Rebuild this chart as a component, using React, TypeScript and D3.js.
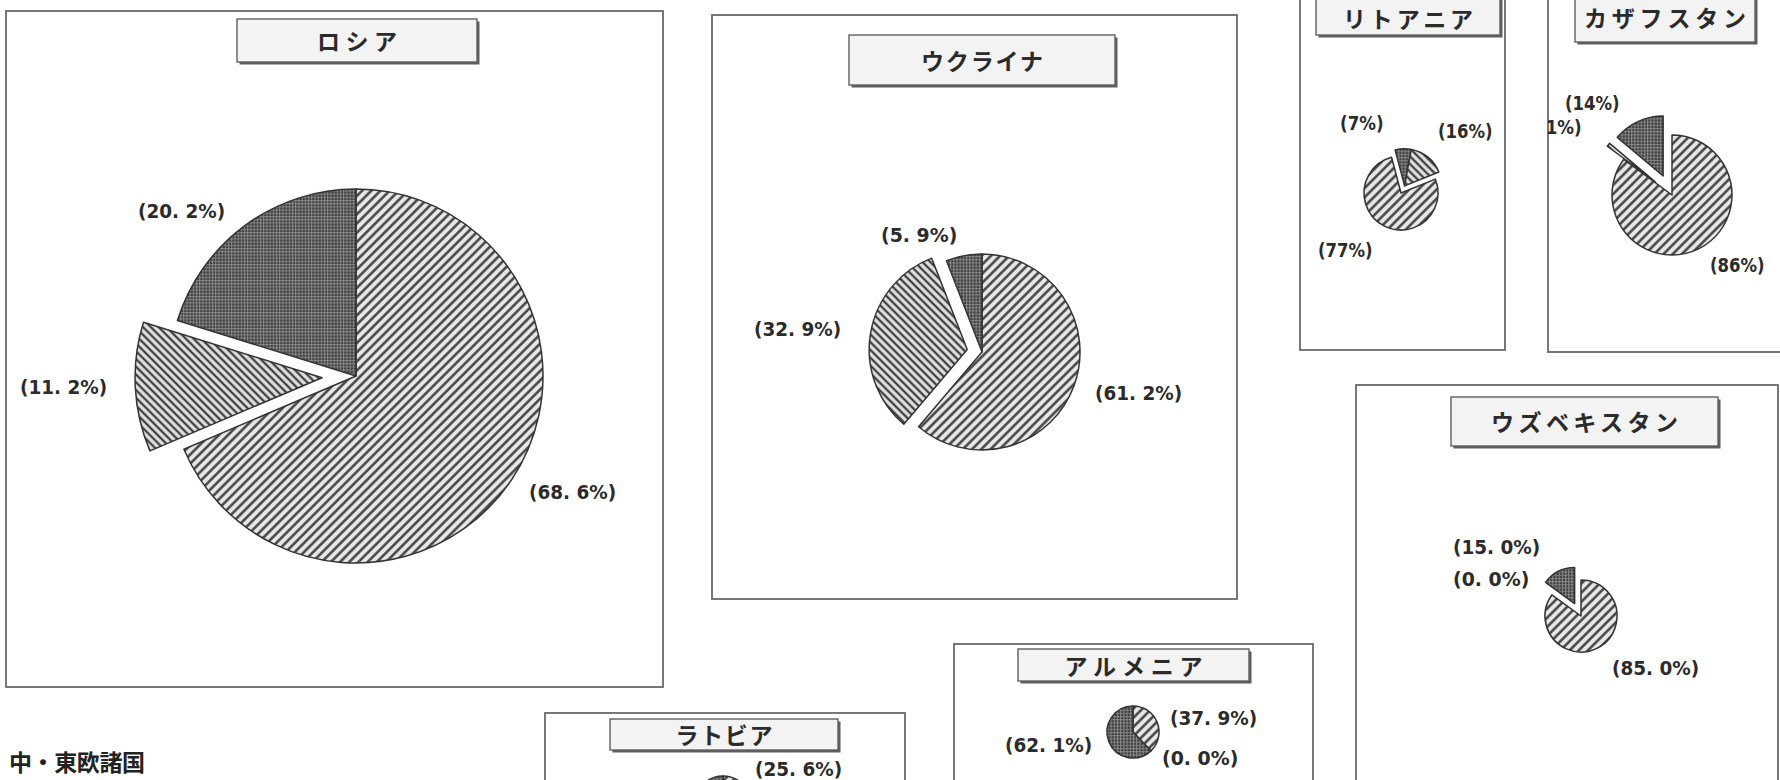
import React from 'react';
import * as d3 from 'd3';

// ---------------- data ----------------
const panelTitles = ['ロシア', 'ウクライナ', 'リトアニア', 'カザフスタン', 'ウズベキスタン', 'アルメニア', 'ラトビア'];

// shares (%) per country, slice order as drawn clockwise from the start angle
const russiaShares = [68.6, 11.2, 20.2];
const ukraineShares = [61.2, 32.9, 5.9];
const lithuaniaShares = [77, 7, 16];
const kazakhstanShares = [86, 1, 14];
const uzbekistanShares = [85.0, 0.0, 15.0];
const armeniaShares = [37.9, 0.0, 62.1];
const latviaShares = [74.4, 0.0, 25.6];

const regionHeading = '中・東欧諸国';

// ---------------- layout & style ----------------
type FillKey = 'diag' | 'back' | 'grid';
type Rect = [number, number, number, number];

interface PieSpec {
  title: string;
  values: number[];
  fills: FillKey[];
  decimals: number;
  panel: Rect;
  titleBox: Rect;
  titleY: number;
  titleWidth: number;
  cx: number;
  cy: number;
  r: number;
  startDeg: number;
  explode: number[];
  sharedExplode?: boolean;
  // label offsets from the pie centre: [left x, middle y]
  labels: ([number, number] | null)[];
}

const STD: FillKey[] = ['diag', 'back', 'grid'];

const pies: PieSpec[] = [
  {
    title: panelTitles[0], values: russiaShares, fills: STD, decimals: 1,
    panel: [6, 11, 657, 676], titleBox: [237, 19, 240, 43], titleY: 40, titleWidth: 80,
    cx: 356, cy: 376, r: 187, startDeg: 0, explode: [0, 34, 0],
    labels: [[173, 116], [-336, 11], [-218, -165]],
  },
  {
    title: panelTitles[1], values: ukraineShares, fills: STD, decimals: 1,
    panel: [712, 15, 525, 584], titleBox: [849, 35, 266, 50], titleY: 60, titleWidth: 122,
    cx: 982, cy: 352, r: 98, startDeg: 0, explode: [0, 15, 0],
    labels: [[113, 41], [-228, -23], [-101, -117]],
  },
  {
    title: panelTitles[2], values: lithuaniaShares, fills: ['diag', 'grid', 'back'], decimals: 0,
    panel: [1300, -20, 205, 370], titleBox: [1316, -10, 184, 45], titleY: 18, titleWidth: 130,
    cx: 1401, cy: 193, r: 37, startDeg: 68, explode: [0, 8, 8], sharedExplode: true,
    labels: [[-83, 57], [-61, -70], [37, -62]],
  },
  {
    title: panelTitles[3], values: kazakhstanShares, fills: STD, decimals: 0,
    panel: [1548, -20, 260, 372], titleBox: [1575, -8, 180, 50], titleY: 17, titleWidth: 162,
    cx: 1672, cy: 195, r: 60, startDeg: 0, explode: [0, 21, 21],
    labels: [[38, 70], [-134, -68], [-107, -92]],
  },
  {
    title: panelTitles[4], values: uzbekistanShares, fills: STD, decimals: 1,
    panel: [1356, 385, 422, 420], titleBox: [1451, 397, 267, 49], titleY: 421, titleWidth: 187,
    cx: 1581, cy: 616, r: 36, startDeg: 0, explode: [0, 0, 14],
    labels: [[31, 52], [-128, -37], [-128, -69]],
  },
  {
    title: panelTitles[5], values: armeniaShares, fills: STD, decimals: 1,
    panel: [954, 644, 359, 200], titleBox: [1018, 649, 231, 32], titleY: 665, titleWidth: 138,
    cx: 1133, cy: 732, r: 26, startDeg: 0, explode: [0, 0, 0],
    labels: [[37, -14], [29, 26], [-128, 13]],
  },
  {
    title: panelTitles[6], values: latviaShares, fills: STD, decimals: 1,
    panel: [545, 713, 360, 200], titleBox: [610, 719, 228, 31], titleY: 734, titleWidth: 97,
    cx: 723, cy: 804, r: 28, startDeg: 0, explode: [0, 0, 0],
    labels: [null, null, [32, -35]],
  },
];

const LABEL_CHAR_W = 10.9;
const LABEL_FONT = '"DejaVu Sans", "Noto Sans", sans-serif';
const TITLE_FONT = '"Noto Sans CJK JP", sans-serif';
const INK = '#2b2b2b';

const formatShare = (v: number, decimals: number) =>
  `(${v.toFixed(decimals).replace('.', '. ')}%)`;

const rad = (deg: number) => (deg * Math.PI) / 180;

function PieChart({ spec, idx }: { spec: PieSpec; idx: number }) {
  const start = rad(spec.startDeg);
  const pieGen = d3
    .pie<number>()
    .sort(null)
    .value((d) => d)
    .startAngle(start)
    .endAngle(start + Math.PI * 2);
  const slices = pieGen(spec.values);
  const arcGen = d3.arc<d3.PieArcDatum<number>>().innerRadius(0).outerRadius(spec.r);

  // direction used when several slices are pulled out together
  const pulled = slices.filter((_, i) => spec.explode[i] > 0);
  const sharedMid = pulled.length
    ? (d3.min(pulled, (s) => s.startAngle)! + d3.max(pulled, (s) => s.endAngle)!) / 2
    : 0;

  const [px, py, pw, ph] = spec.panel;
  const [tx, ty, tw, th] = spec.titleBox;
  const clipId = `panel-clip-${idx}`;

  return (
    <g>
      <defs>
        <clipPath id={clipId}>
          <rect x={px} y={py} width={pw} height={ph} />
        </clipPath>
      </defs>
      <rect x={px} y={py} width={pw} height={ph} fill="#fff" stroke="#6a6a6a" strokeWidth={1.8} />
      <g clipPath={`url(#${clipId})`}>
        {/* title plate with drop shadow */}
        <rect x={tx + 2.5} y={ty + 2.5} width={tw} height={th} fill="#5e5e5e" />
        <rect x={tx} y={ty} width={tw} height={th} fill="#f3f3f3" stroke="#606060" strokeWidth={1.4} />
        <text
          x={tx + tw / 2}
          y={spec.titleY}
          textAnchor="middle"
          dominantBaseline="central"
          fontFamily={TITLE_FONT}
          fontSize={23}
          fontWeight={600}
          fill={INK}
          textLength={spec.titleWidth}
          lengthAdjust="spacing"
        >
          {spec.title}
        </text>

        {slices.map((s, i) => {
          if (s.endAngle - s.startAngle <= 0) return null;
          const mid = spec.sharedExplode && spec.explode[i] > 0 ? sharedMid : (s.startAngle + s.endAngle) / 2;
          const d = spec.explode[i];
          const ox = Math.sin(mid) * d;
          const oy = -Math.cos(mid) * d;
          return (
            <path
              key={i}
              d={arcGen(s) || ''}
              transform={`translate(${spec.cx + ox},${spec.cy + oy})`}
              fill={`url(#fill-${spec.fills[i]})`}
              stroke="#333"
              strokeWidth={1.5}
              strokeLinejoin="round"
            />
          );
        })}

        {slices.map((s, i) => {
          const off = spec.labels[i];
          if (!off) return null;
          const text = formatShare(s.data, spec.decimals);
          return (
            <text
              key={`l${i}`}
              x={spec.cx + off[0]}
              y={spec.cy + off[1]}
              dominantBaseline="central"
              fontFamily={LABEL_FONT}
              fontSize={20}
              fontWeight={700}
              fill={INK}
              textLength={text.length * LABEL_CHAR_W}
              lengthAdjust="spacingAndGlyphs"
            >
              {text}
            </text>
          );
        })}
      </g>
    </g>
  );
}

export default function App() {
  return (
    <svg
      width={1780}
      height={780}
      viewBox="0 0 1780 780"
      style={{ position: 'fixed', left: 0, top: 0, background: '#fff', display: 'block' }}
    >
      <defs>
        <pattern id="fill-diag" patternUnits="userSpaceOnUse" width={6.5} height={6.5} patternTransform="rotate(45)">
          <rect width={6.5} height={6.5} fill="#e6e6e6" />
          <line x1={3.25} y1={0} x2={3.25} y2={6.5} stroke="#444" strokeWidth={2.5} />
        </pattern>
        <pattern id="fill-back" patternUnits="userSpaceOnUse" width={5.5} height={5.5} patternTransform="rotate(-45)">
          <rect width={5.5} height={5.5} fill="#e2e2e2" />
          <line x1={2.75} y1={0} x2={2.75} y2={5.5} stroke="#404040" strokeWidth={2.3} />
        </pattern>
        <pattern id="fill-grid" patternUnits="userSpaceOnUse" width={3.2} height={3.2}>
          <rect width={3.2} height={3.2} fill="#3c3c3c" />
          <path d="M0 0.6 H3.2 M0.6 0 V3.2" stroke="#959595" strokeWidth={0.9} />
        </pattern>
      </defs>

      {pies.map((p, i) => (
        <PieChart key={p.title} spec={p} idx={i} />
      ))}

      <text
        x={9}
        y={761}
        dominantBaseline="central"
        fontFamily={TITLE_FONT}
        fontSize={23}
        fontWeight={700}
        fill="#222"
        textLength={136}
        lengthAdjust="spacing"
      >
        {regionHeading}
      </text>
    </svg>
  );
}
